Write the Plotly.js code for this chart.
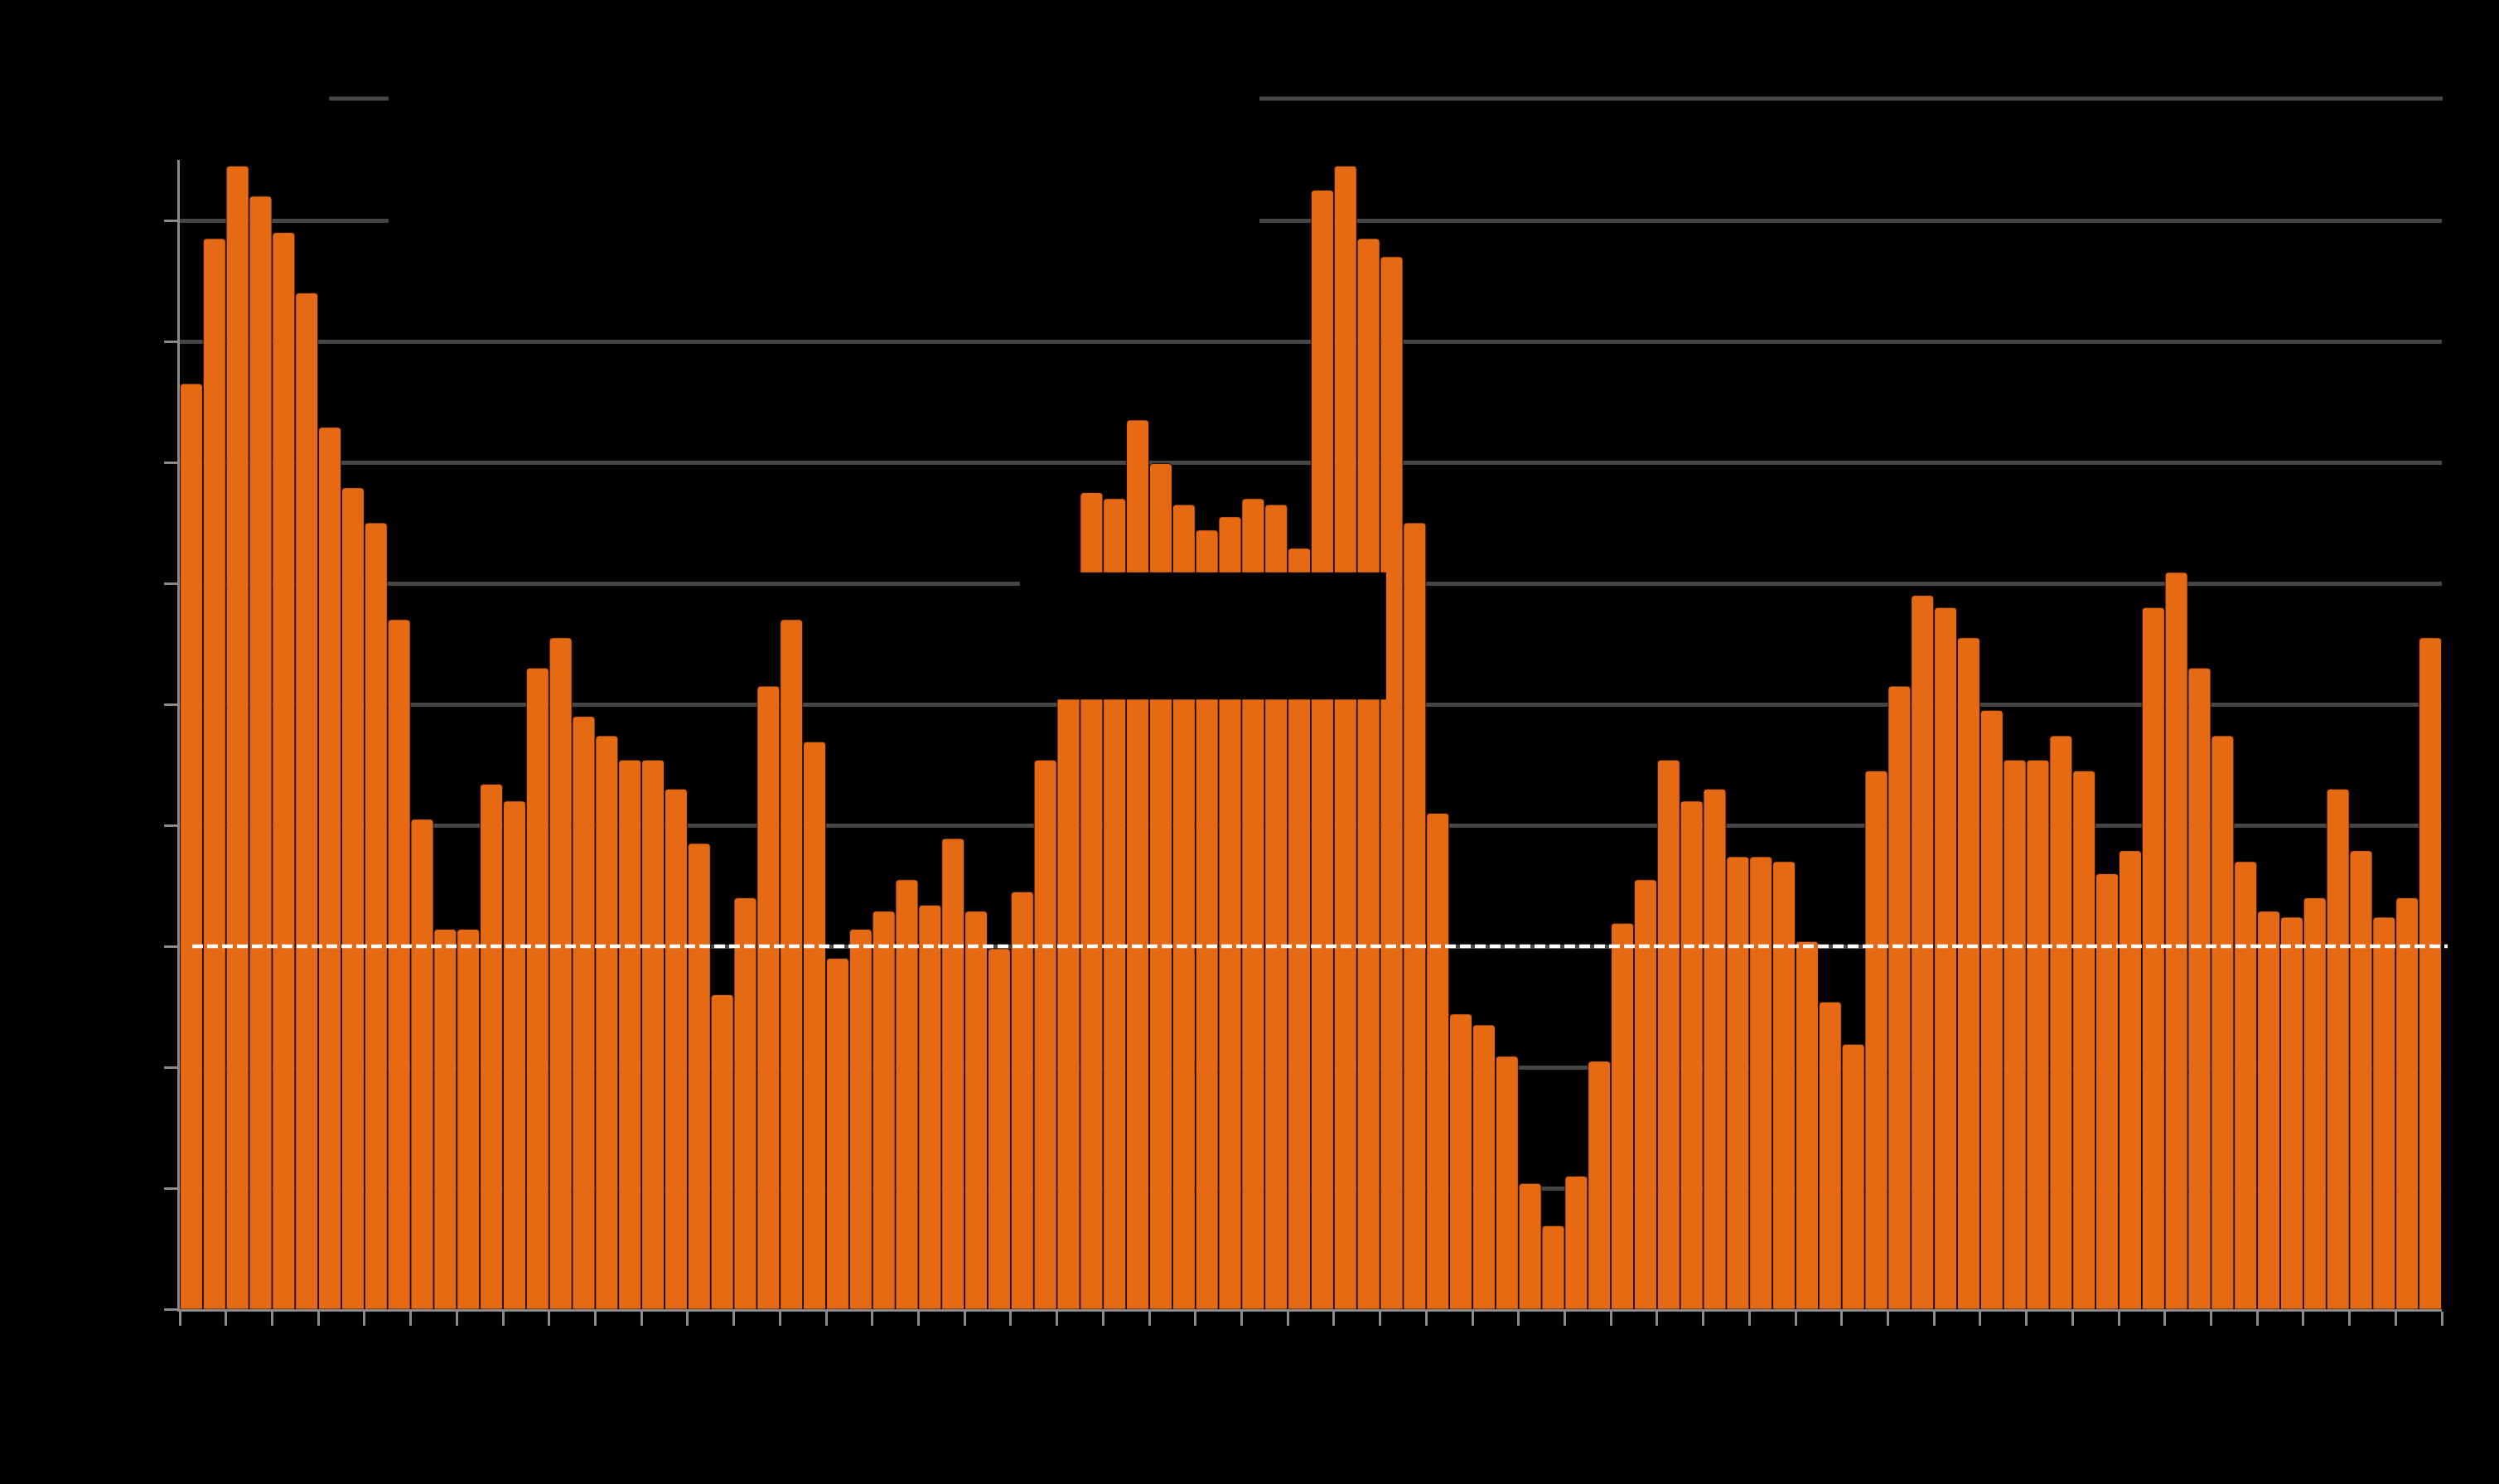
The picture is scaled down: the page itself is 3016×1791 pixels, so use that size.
<!DOCTYPE html>
<html>
<head>
<meta charset="utf-8">
<script src="https://cdn.plot.ly/plotly-3.0.1.min.js"></script>
<style>
  html, body { margin: 0; padding: 0; background: #000; }
  #chart { width: 3016px; height: 1791px; }
</style>
</head>
<body>
<div id="chart"></div>
<script>
// Period index (one bar per period)
const periods = [];
for (let i = 1; i <= 98; i++) periods.push(i);

// Bar values
const values = [
  7.65, 8.85, 9.45, 9.20, 8.90, 8.40, 7.29, 6.79, 6.50, 5.70,
  4.05, 3.14, 3.14, 4.34, 4.20, 5.30, 5.55, 4.90, 4.74, 4.54,
  4.54, 4.30, 3.85, 2.60, 3.40, 5.15, 5.70, 4.69, 2.90, 3.14,
  3.29, 3.55, 3.34, 3.89, 3.29, 2.98, 3.45, 4.54, 5.60, 6.75,
  6.70, 7.35, 6.99, 6.65, 6.44, 6.55, 6.70, 6.65, 6.29, 9.25,
  9.45, 8.85, 8.70, 6.50, 4.10, 2.44, 2.35, 2.09, 1.04, 0.69,
  1.10, 2.05, 3.19, 3.55, 4.54, 4.20, 4.30, 3.74, 3.74, 3.70,
  3.04, 2.54, 2.19, 4.45, 5.15, 5.90, 5.80, 5.55, 4.95, 4.54,
  4.54, 4.74, 4.45, 3.60, 3.79, 5.80, 6.09, 5.30, 4.74, 3.70,
  3.29, 3.24, 3.40, 4.30, 3.79, 3.24, 3.40, 5.55
];

// Reference level (dashed line)
const referenceLevel = [3];

// Y tick values
const yTicks = [0, 1, 2, 3, 4, 5, 6, 7, 8, 9];

// X ticks every two periods, at bar edges
const xTicks = [];
for (let i = 0; i <= periods.length; i += 2) xTicks.push(i + 0.5);

const trace = {
  type: 'bar',
  x: periods,
  y: values,
  marker: { color: '#e66914', cornerradius: 4, line: { width: 0.8, color: '#000000' } },
  hoverinfo: 'x+y'
};

const gray = '#8a8a8a';
const grid = '#464646';

const layout = {
  width: 3016,
  height: 1791,
  paper_bgcolor: '#000000',
  plot_bgcolor: '#000000',
  margin: { l: 217, r: 69, t: 193, b: 211, pad: 0 },
  showlegend: false,
  bargap: 0.03,
  xaxis: {
    range: [0.5, periods.length + 0.5],
    showgrid: false,
    zeroline: false,
    showline: true,
    linecolor: gray,
    linewidth: 3,
    tickmode: 'array',
    tickvals: xTicks,
    showticklabels: false,
    ticks: 'outside',
    ticklen: 17,
    tickwidth: 3,
    tickcolor: gray
  },
  yaxis: {
    range: [0, 9.5],
    showgrid: true,
    gridcolor: grid,
    gridwidth: 5,
    zeroline: false,
    showline: true,
    linecolor: gray,
    linewidth: 3,
    tickmode: 'array',
    tickvals: yTicks,
    showticklabels: false,
    ticks: 'outside',
    ticklen: 16,
    tickwidth: 3,
    tickcolor: gray
  },
  shapes: [
    // top rule above the plot area
    { type: 'line', xref: 'paper', yref: 'paper', x0: 0.066, x1: 1.0004, y0: 1.0534, y1: 1.0534,
      line: { color: grid, width: 5 }, layer: 'below' },
    // black header box
    { type: 'rect', xref: 'paper', yref: 'paper', x0: 0.0923, x1: 0.4773, y0: 0.92, y1: 1.08,
      fillcolor: '#000000', line: { width: 0 }, layer: 'above' },
    // black key box inside the plot
    { type: 'rect', xref: 'paper', yref: 'y', x0: 0.3714, x1: 0.5333, y0: 5.04, y1: 6.09,
      fillcolor: '#000000', line: { width: 0 }, layer: 'above' },
    // dashed reference line
    { type: 'line', xref: 'paper', yref: 'y', x0: 0.0055, x1: 1.0026, y0: referenceLevel[0], y1: referenceLevel[0],
      line: { color: '#ffffff', width: 4.5, dash: '13px,5px' }, layer: 'above' }
  ]
};

Plotly.newPlot('chart', [trace], layout, { displayModeBar: false, responsive: false });
</script>
</body>
</html>
